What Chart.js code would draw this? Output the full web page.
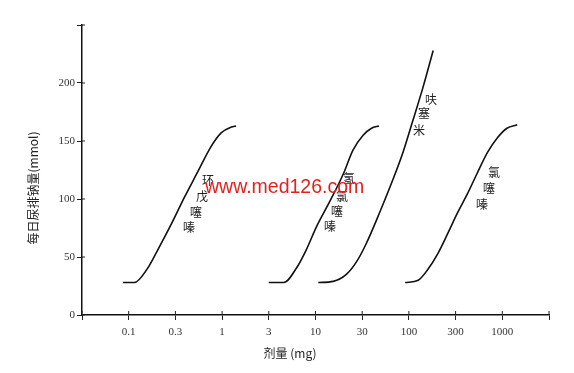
<!DOCTYPE html>
<html>
<head>
<meta charset="utf-8">
<script src="https://cdn.jsdelivr.net/npm/chart.js@4"></script>
<style>
  body { margin: 0; background: #fff; }
  #wrap { width: 574px; height: 373px; }
</style>
</head>
<body>
<div id="wrap"><canvas id="dose-chart"></canvas></div>
<script>
// x is log10(dose in mg), y is daily urinary sodium (mmol)
var tickLabels = ["", "0.1", "0.3", "1", "3", "10", "30", "100", "300", "1000", ""];

var cyclopenthiazideX = [-1.06, -0.94, -0.80, -0.69, -0.54, -0.40, -0.27, -0.12, -0.01, 0.10, 0.15];
var cyclopenthiazideY = [28, 28, 40, 56, 79, 102, 122, 145, 157, 162, 163];

var hydrochlorothiazideX = [0.50, 0.66, 0.80, 0.90, 1.01, 1.16, 1.30, 1.40, 1.51, 1.60, 1.68];
var hydrochlorothiazideY = [28, 28, 41, 56, 76, 99, 122, 142, 155, 161, 163];

var furosemideX = [1.03, 1.19, 1.33, 1.44, 1.54, 1.69, 1.83, 1.94, 2.04, 2.15, 2.26];
var furosemideY = [28, 29, 35, 46, 61, 89, 117, 141, 167, 196, 228];

var chlorothiazideX = [1.96, 2.10, 2.20, 2.31, 2.42, 2.52, 2.63, 2.73, 2.84, 2.95, 3.05, 3.16];
var chlorothiazideY = [28, 30, 39, 53, 71, 88, 105, 122, 140, 153, 161, 164];

// drug name labels, written vertically next to each curve
var drugLabels = [
  { chars: ["环", "戊", "噻", "嗪"], x: [208, 202, 196, 189], y: [180, 196, 212, 227] },
  { chars: ["氢", "氯", "噻", "嗪"], x: [349, 342, 337, 330], y: [178, 196, 211, 226] },
  { chars: ["呋", "塞", "米"], x: [431, 424, 419], y: [99, 113, 130] },
  { chars: ["氯", "噻", "嗪"], x: [494, 489, 482], y: [172, 188, 204] }
];

function pts(xs, ys) {
  return xs.map(function (x, i) { return { x: x, y: ys[i] }; });
}

function curve(xs, ys) {
  return {
    data: pts(xs, ys),
    showLine: true,
    borderColor: "#111",
    borderWidth: 1.6,
    pointRadius: 0,
    cubicInterpolationMode: "monotone",
    fill: false
  };
}

var textPlugin = {
  id: "textPlugin",
  afterDraw: function (chart) {
    var ctx = chart.ctx;
    var xs = chart.scales.x, ys = chart.scales.y;
    ctx.save();

    // tick marks poke a little past the axis line, as in the print
    ctx.strokeStyle = "#222";
    ctx.lineWidth = 1;
    ctx.beginPath();
    xs.ticks.forEach(function (t) {
      var px = xs.getPixelForValue(t.value);
      ctx.moveTo(px, ys.bottom);
      ctx.lineTo(px, ys.bottom - 4);
    });
    ys.ticks.forEach(function (t) {
      var py = ys.getPixelForValue(t.value);
      ctx.moveTo(xs.left, py);
      ctx.lineTo(xs.left + 3, py);
    });
    ctx.stroke();

    ctx.fillStyle = "#222";
    ctx.textAlign = "center";
    ctx.textBaseline = "middle";
    ctx.font = "12px 'Noto Sans CJK SC'";
    drugLabels.forEach(function (lab) {
      lab.chars.forEach(function (c, i) {
        ctx.fillText(c, lab.x[i], lab.y[i]);
      });
    });

    // axis titles
    ctx.fillText("剂量 (mg)", 290, 353);
    ctx.save();
    ctx.translate(33, 188);
    ctx.rotate(-Math.PI / 2);
    ctx.fillText("每日尿排钠量(mmol)", 0, 0);
    ctx.restore();

    // watermark
    ctx.fillStyle = "#e5211d";
    ctx.textAlign = "left";
    ctx.textBaseline = "alphabetic";
    ctx.font = "19.5px 'Liberation Sans'";
    ctx.fillText("www.med126.com", 205, 193);
    ctx.restore();
  }
};

new Chart(document.getElementById("dose-chart"), {
  type: "scatter",
  data: {
    datasets: [
      curve(cyclopenthiazideX, cyclopenthiazideY),
      curve(hydrochlorothiazideX, hydrochlorothiazideY),
      curve(furosemideX, furosemideY),
      curve(chlorothiazideX, chlorothiazideY)
    ]
  },
  options: {
    responsive: true,
    maintainAspectRatio: false,
    animation: false,
    layout: { padding: { left: 0, right: 25, top: 25, bottom: 0 } },
    plugins: {
      legend: { display: false },
      tooltip: { enabled: false }
    },
    scales: {
      x: {
        type: "linear",
        min: -1.5,
        max: 3.5,
        afterFit: function (s) { s.height = 58; },
        afterBuildTicks: function (s) {
          s.ticks = tickLabels.map(function (l, i) { return { value: -1.5 + i * 0.5 }; });
        },
        ticks: {
          autoSkip: false,
          maxRotation: 0,
          padding: 6,
          color: "#333",
          font: { family: "'Liberation Serif'", size: 11 },
          callback: function (v, i) { return tickLabels[i]; }
        },
        grid: { drawOnChartArea: false, tickLength: 5, color: "#222", tickWidth: 1 },
        border: { color: "#111", width: 1.5 }
      },
      y: {
        min: 0,
        max: 250,
        afterFit: function (s) { s.width = 82; },
        ticks: {
          stepSize: 50,
          padding: 2,
          color: "#333",
          font: { family: "'Liberation Serif'", size: 11 },
          callback: function (v) { return v === 250 ? "" : v; }
        },
        grid: { drawOnChartArea: false, tickLength: 5, color: "#222", tickWidth: 1 },
        border: { color: "#111", width: 1.5 }
      }
    }
  },
  plugins: [textPlugin]
});
</script>
</body>
</html>
